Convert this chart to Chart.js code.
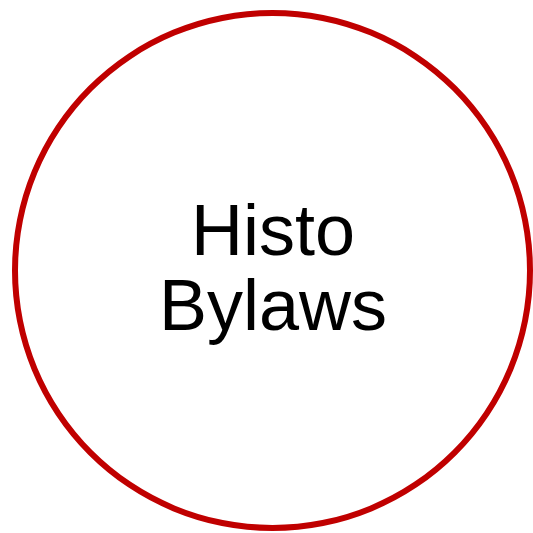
<!DOCTYPE html>
<html>
<head>
<meta charset="utf-8">
<script src="https://cdn.jsdelivr.net/npm/chart.js@4.4.1/dist/chart.umd.min.js"></script>
<style>
  html, body { margin: 0; padding: 0; background: #ffffff; }
  #ring { display: block; }
</style>
</head>
<body>
<canvas id="ring" width="533" height="533"></canvas>
<script>
// Single ring, one category
const categories = ['Histo Bylaws'];
const values = [1];
const labelLines = ['Histo', 'Bylaws'];

// Draw the label text in the middle of the ring
const centerLabel = {
    id: 'centerLabel',
    afterDraw(chart) {
        const arc = chart.getDatasetMeta(0).data[0];
        if (!arc) return;
        const ctx = chart.ctx;
        ctx.save();
        ctx.fillStyle = '#000000';
        ctx.font = '72px "Liberation Sans", Arial, sans-serif';
        ctx.textAlign = 'center';
        ctx.textBaseline = 'alphabetic';
        const lineHeight = 75;
        const firstBaseline = arc.y - 15.5;
        labelLines.forEach((line, i) => {
            ctx.fillText(line, arc.x + 0.5, firstBaseline + i * lineHeight);
        });
        ctx.restore();
    }
};

const ctx = document.getElementById('ring').getContext('2d');
new Chart(ctx, {
    type: 'doughnut',
    data: {
        labels: categories,
        datasets: [{
            data: values,
            backgroundColor: '#c00000',
            borderWidth: 0,
            hoverOffset: 0
        }]
    },
    options: {
        responsive: false,
        animation: false,
        cutout: 254.5, // ring is about 6px thick
        layout: {
            padding: { left: 12, top: 10, right: 0, bottom: 2 }
        },
        plugins: {
            legend: { display: false },
            tooltip: { enabled: false }
        }
    },
    plugins: [centerLabel]
});
</script>
</body>
</html>
